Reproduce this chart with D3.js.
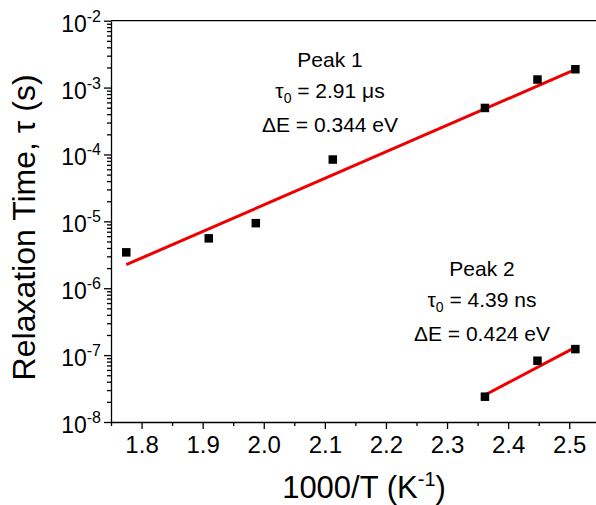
<!DOCTYPE html>
<html>
<head>
<meta charset="utf-8">
<script src="https://d3js.org/d3.v7.min.js"></script>
<style>
  body { margin: 0; background: #fff; }
  svg { display: block; font-family: Arial, "Liberation Sans", sans-serif; }
  .axis path, .axis line { stroke: #000; stroke-width: 1.3; }
</style>
</head>
<body>
<div id="chart"></div>
<script>
// data
const peak1X = [1.775, 1.910, 1.987, 2.113, 2.362, 2.448, 2.510];
const peak1Tau = [3.44e-6, 5.57e-6, 9.4e-6, 8.4e-5, 4.96e-4, 1.32e-3, 1.88e-3];
const peak2X = [2.362, 2.448, 2.510];
const peak2Tau = [2.39e-8, 8.24e-8, 1.23e-7];
// fitted lines (end points)
const fit1X = [1.775, 2.515];
const fit1Tau = [2.25e-6, 1.95e-3];
const fit2X = [2.362, 2.512];
const fit2Tau = [2.53e-8, 1.34e-7];

const xTicks = [1.8, 1.9, 2.0, 2.1, 2.2, 2.3, 2.4, 2.5];
const yExponents = [-8, -7, -6, -5, -4, -3, -2];

const width = 596, height = 505;

const svg = d3.select("#chart")
    .append("svg")
    .attr("width", width)
    .attr("height", height);

const x = d3.scaleLinear()
    .domain([1.75, 2.55])
    .range([111, 599.8]);

const y = d3.scaleLog()
    .domain([1e-8, 1e-2])
    .range([422, 20.7]);

// minor ticks
let xMinor = [];
for (let v = 1.75; v < 2.56; v += 0.1) xMinor.push(+v.toFixed(2));
let yMinor = [];
yExponents.slice(0, -1).forEach(e => {
    for (let m = 2; m < 10; m++) yMinor.push(m * Math.pow(10, e));
});

// top frame line
svg.append("line")
    .attr("x1", x(1.75)).attr("x2", width)
    .attr("y1", y(1e-2)).attr("y2", y(1e-2))
    .attr("stroke", "#000")
    .attr("stroke-width", 1.3);

// x axis
svg.append("g")
    .attr("class", "axis")
    .attr("transform", `translate(0,${y(1e-8)})`)
    .call(d3.axisBottom(x).tickValues(xMinor).tickSize(4).tickFormat("").tickSizeOuter(0));

const xAxis = svg.append("g")
    .attr("class", "axis")
    .attr("transform", `translate(0,${y(1e-8)})`)
    .call(d3.axisBottom(x).tickValues(xTicks).tickSize(7).tickFormat(d3.format(".1f")).tickSizeOuter(0));
xAxis.select(".domain").remove();
xAxis.selectAll("text")
    .attr("y", 14)
    .style("font-size", "24px")
    .style("font-family", "Arial, 'Liberation Sans', sans-serif");

// y axis
svg.append("g")
    .attr("class", "axis")
    .attr("transform", `translate(${x(1.75)},0)`)
    .call(d3.axisLeft(y).tickValues(yMinor).tickSize(4).tickFormat("").tickSizeOuter(0));

const yAxis = svg.append("g")
    .attr("class", "axis")
    .attr("transform", `translate(${x(1.75)},0)`)
    .call(d3.axisLeft(y).tickValues(yExponents.map(e => Math.pow(10, e))).tickSize(7).tickFormat("").tickSizeOuter(0));
yAxis.select(".domain").remove();

// y tick labels: 10 with superscript exponent
yExponents.forEach(e => {
    const t = svg.append("text")
        .attr("x", 101)
        .attr("y", y(Math.pow(10, e)) + 11)
        .attr("text-anchor", "end")
        .style("font-size", "23px");
    t.append("tspan").text("10");
    t.append("tspan")
        .attr("dy", -10)
        .style("font-size", "16px")
        .text(String(e));
});

// axis titles
svg.append("text")
    .attr("text-anchor", "middle")
    .attr("transform", `translate(35,${(y(1e-2) + y(1e-8)) / 2 + 6}) rotate(-90)`)
    .style("font-size", "32px")
    .text("Relaxation Time, \u03c4 (s)");

const xt = svg.append("text")
    .attr("text-anchor", "middle")
    .attr("x", 364)
    .attr("y", 498)
    .style("font-size", "31px");
xt.append("tspan").text("1000/T (K");
xt.append("tspan").attr("dy", -12).style("font-size", "20px").text("-1");
xt.append("tspan").attr("dy", 12).text(")");

// fit lines
const line = d3.line()
    .x(d => x(d[0]))
    .y(d => y(d[1]));

svg.append("path")
    .datum(d3.zip(fit1X, fit1Tau))
    .attr("d", line)
    .attr("fill", "none")
    .attr("stroke", "#ee0000")
    .attr("stroke-width", 3);

svg.append("path")
    .datum(d3.zip(fit2X, fit2Tau))
    .attr("d", line)
    .attr("fill", "none")
    .attr("stroke", "#ee0000")
    .attr("stroke-width", 3);

// points
const sq = 8.5;
svg.append("g")
    .selectAll("rect")
    .data(d3.zip(peak1X, peak1Tau).concat(d3.zip(peak2X, peak2Tau)))
    .join("rect")
    .attr("x", d => x(d[0]) - sq / 2)
    .attr("y", d => y(d[1]) - sq / 2)
    .attr("width", sq)
    .attr("height", sq)
    .attr("fill", "#000");

// annotations
function annotate(cx, y0, name, tau, dE) {
    const g = svg.append("g").style("font-size", "21px").attr("text-anchor", "middle");
    g.append("text").attr("x", cx).attr("y", y0).text(name);
    const t = g.append("text").attr("x", cx).attr("y", y0 + 31);
    t.append("tspan").text("\u03c4");
    t.append("tspan").attr("dy", 5).style("font-size", "14px").text("0");
    t.append("tspan").attr("dy", -5).text(" = " + tau);
    g.append("text").attr("x", cx).attr("y", y0 + 65).text("\u0394E = " + dE);
}
annotate(330, 67, "Peak 1", "2.91 \u03bcs", "0.344 eV");
annotate(482, 276, "Peak 2", "4.39 ns", "0.424 eV");
</script>
</body>
</html>
